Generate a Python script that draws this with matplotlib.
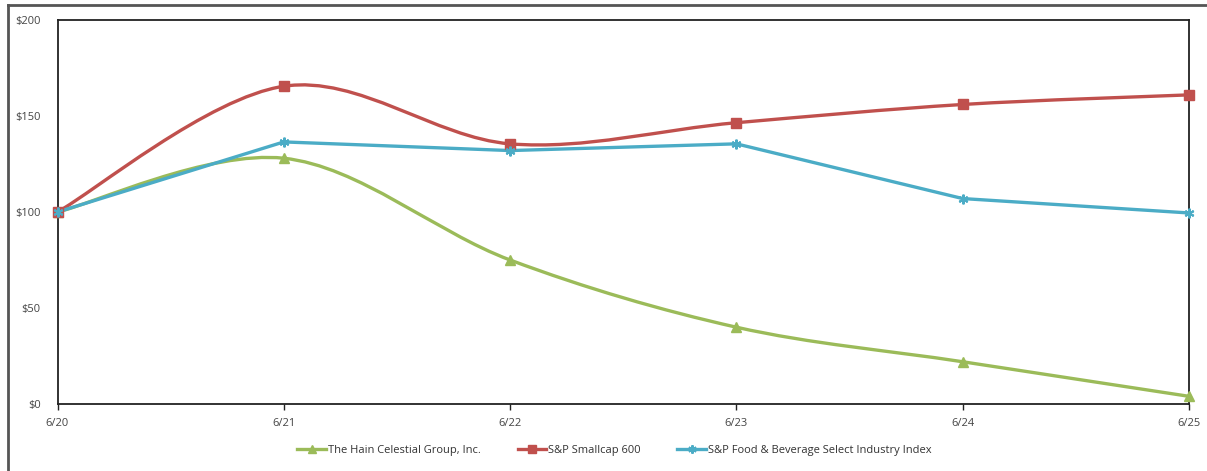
import matplotlib
matplotlib.use("Agg")
import matplotlib.pyplot as plt
from matplotlib.path import Path
from matplotlib.patches import PathPatch
from matplotlib.lines import Line2D
import numpy as np

plt.rcParams['font.family'] = ['Open Sans', 'DejaVu Sans']

dates = ["6/20", "6/21", "6/22", "6/23", "6/24", "6/25"]
hain = [100, 128, 75, 40, 22, 4]
smallcap = [100, 165.5, 135.5, 146.5, 156, 161]
food = [100, 136.5, 132, 135.5, 107, 99.5]
names = ["The Hain Celestial Group, Inc.", "S&P Smallcap 600",
         "S&P Food & Beverage Select Industry Index"]
yticks = [0, 50, 100, 150, 200]
ylabels = ["$0", "$50", "$100", "$150", "$200"]

colors = ["#9BBB59", "#C0504D", "#4BACC6"]
markers = ["^", "s", (6, 2, 0)]
smooth = [True, True, False]

W, H = 1207, 471
fig = plt.figure(figsize=(W / 100, H / 100), dpi=100)
ax = fig.add_axes([57.5 / W, 1 - 404 / H, (1189 - 57.5) / W, (404 - 20) / H])

x = np.arange(len(dates), dtype=float)


def smooth_path(xs, ys):
    pts = np.column_stack([xs, ys])
    n = len(pts)
    verts = [pts[0]]
    codes = [Path.MOVETO]
    for i in range(n - 1):
        p0 = pts[i - 1] if i > 0 else pts[i]
        p1 = pts[i]
        p2 = pts[i + 1]
        p3 = pts[i + 2] if i + 2 < n else pts[i + 1]
        c1 = p1 + (p2 - p0) / 6.0
        c2 = p2 - (p3 - p1) / 6.0
        verts += [c1, c2, p2]
        codes += [Path.CURVE4] * 3
    return Path(verts, codes)


for vals, c, m, sm in zip([hain, smallcap, food], colors, markers, smooth):
    if sm:
        ax.add_patch(PathPatch(smooth_path(x, np.array(vals, float)), facecolor="none",
                               edgecolor=c, lw=2.4, zorder=3, clip_on=False))
    else:
        ax.plot(x, vals, color=c, lw=2.4, zorder=3, clip_on=False)
    ax.plot(x, vals, ls="none", marker=m, color=c, markersize=7,
            markeredgewidth=1.5 if m == (6, 2, 0) else 1.0, zorder=4, clip_on=False)

ax.set_xlim(0, 5)
ax.set_ylim(0, 200)
ax.set_xticks(x)
ax.set_xticklabels(dates)
ax.set_yticks(yticks)
ax.set_yticklabels(ylabels)
for s in ax.spines.values():
    s.set_color("#222222")
    s.set_linewidth(1.3)
ax.tick_params(axis="x", length=4, width=1, colors="#222222", labelcolor="#444444",
               labelsize=8, pad=6, direction="out")
ax.tick_params(axis="y", length=0, labelcolor="#444444", labelsize=8, pad=12)
for lab in ax.get_yticklabels():
    lab.set_horizontalalignment("right")

handles = [Line2D([], [], color=c, marker=m, lw=2.4, markersize=6,
                  markeredgewidth=1.5 if m == (6, 2, 0) else 1.0)
           for c, m in zip(colors, markers)]
fig.legend(handles, names, loc="center", bbox_to_anchor=(614.5 / W, 1 - 450 / H),
           ncol=3, frameon=False, fontsize=8, handlelength=2.6, handletextpad=0.15,
           columnspacing=3.3, labelcolor="#333333")

# outer chart frame (left and top edges visible)
fig.add_artist(Line2D([8 / W, 8 / W], [0, 1 - 5 / H], color="#555555", lw=2,
                      transform=fig.transFigure))
fig.add_artist(Line2D([8 / W, 1], [1 - 5 / H, 1 - 5 / H], color="#555555", lw=2,
                      transform=fig.transFigure))

fig.savefig("out.png", dpi=100, facecolor="white")
